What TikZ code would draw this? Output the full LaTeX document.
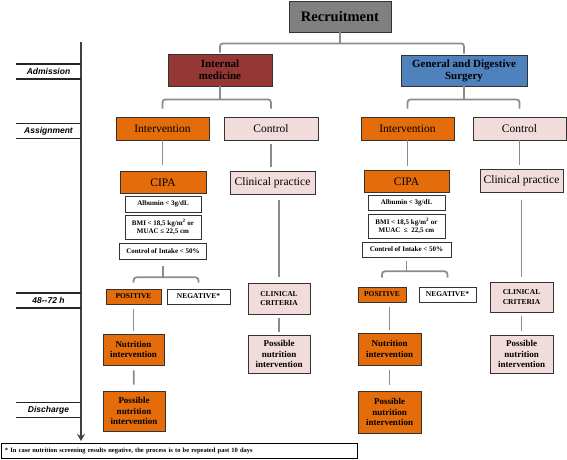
\documentclass[tikz,border=0pt]{standalone}
\usepackage{fontspec}
\setmainfont{Liberation Serif}
\newfontfamily\phasefont{Liberation Sans}
\usetikzlibrary{arrows.meta, positioning, calc}

\definecolor{recgray}{HTML}{808080}
\definecolor{imred}{HTML}{953735}
\definecolor{gsblue}{HTML}{4F81BD}
\definecolor{intorange}{HTML}{E46C0A}
\definecolor{ctlpink}{HTML}{F2DCDB}
\definecolor{linkgray}{HTML}{8C8C8C}
\definecolor{boxedge}{HTML}{333333}

\begin{document}
\begin{tikzpicture}[
    x=1pt, y=-1pt,
    box/.style={rectangle, draw=boxedge, line width=0.8pt, align=center, inner sep=1pt},
    ward/.style={box, font=\fontsize{11}{12}\selectfont\bfseries},
    arm/.style={box, font=\fontsize{11.5}{12}\selectfont, minimum height=23pt},
    crit/.style={box, fill=white, font=\fontsize{7}{8}\selectfont\bfseries},
    result/.style={box, font=\fontsize{7.5}{9.5}\selectfont\bfseries, minimum height=15pt},
    action/.style={box, font=\fontsize{9}{10.5}\selectfont\bfseries},
    phase/.style={font=\phasefont\fontsize{8.5}{10}\selectfont\bfseries\itshape, minimum width=65pt, minimum height=15pt, inner sep=0pt},
    phaseline/.style={line width=1.5pt, black!85},
    link/.style={line width=1.8pt, linkgray},
    timeline/.style={line width=1.8pt, black!75, -{Stealth[length=7pt, width=8pt]}}
]
\useasboundingbox (0,0) rectangle (567,459);

% Time line (left)
\coordinate (tltop) at (81,42);
\coordinate (tlend) at (81,441);
\draw[timeline] (tltop) -- (tlend);

\node[phase] (adm) at (48.5,71.5) {Admission};
\node[phase] (asg) at (48.5,131) {Assignment};
\node[phase] (h48) at (48.5,300.5) {48--72 h};
\node[phase] (dis) at (48.5,410) {Discharge};
\foreach \p in {adm, asg, h48, dis} {
    \draw[phaseline] (\p.north west) -- (\p.north east);
    \draw[phaseline] (\p.south west) -- (\p.south east);
}

% Recruitment and wards
\node[box, fill=recgray, minimum width=102pt, minimum height=31pt, font=\fontsize{14.5}{16}\selectfont\bfseries] (recruit) at (340,16.5) {Recruitment};
\node[ward, fill=imred, minimum width=104pt, minimum height=32pt] (im) at (220,70) {Internal\\medicine};
\node[ward, fill=gsblue, minimum width=126pt, minimum height=31pt] (gs) at (464,70.5) {General and Digestive\\Surgery};

% Assignment
\node[arm, fill=intorange, minimum width=93pt] (int1) at (162.5,128.5) {Intervention};
\node[arm, fill=ctlpink, minimum width=94pt] (ctl1) at (271,128.5) {Control};
\node[arm, fill=intorange, minimum width=93pt] (int2) at (407.5,128.5) {Intervention};
\node[arm, fill=ctlpink, minimum width=93pt] (ctl2) at (519.5,128.5) {Control};

% Screening - Internal medicine
\node[arm, fill=intorange, minimum width=86pt, minimum height=22pt] (cipa1) at (163,182.5) {CIPA};
\node[crit, minimum width=76pt, minimum height=16pt, below=2pt of cipa1] (alb1) {Albumin < 3g/dL};
\node[crit, minimum width=76pt, minimum height=24pt, below=2pt of alb1] (bmi1) {BMI < 18,5 kg/m\textsuperscript{2} or\\MUAC ≤ 22,5 cm};
\node[crit, minimum width=87pt, minimum height=16pt, below=3pt of bmi1] (coi1) {Control of Intake < 50\%};
\node[arm, fill=ctlpink, minimum width=85pt] (cp1) at (272.5,182.5) {Clinical practice};

% Screening - Surgery
\node[arm, fill=intorange, minimum width=85pt, minimum height=22pt] (cipa2) at (406.5,181.5) {CIPA};
\node[crit, minimum width=77pt, minimum height=15pt, below=2pt of cipa2] (alb2) {Albumin < 3g/dL};
\node[crit, minimum width=77pt, minimum height=24pt, below=3pt of alb2] (bmi2) {BMI < 18,5 kg/m\textsuperscript{2} or\\MUAC \ ≤ \ 22,5 cm};
\node[crit, minimum width=89pt, minimum height=15pt, below=3pt of bmi2] (coi2) {Control of Intake < 50\%};
\node[arm, fill=ctlpink, minimum width=83pt] (cp2) at (521.5,180.5) {Clinical practice};

% 48-72 h results
\node[result, fill=intorange, minimum width=55pt] (pos1) at (133.5,296.5) {POSITIVE};
\node[result, fill=white, minimum width=63pt] (neg1) at (198.5,296.5) {NEGATIVE*};
\node[result, fill=ctlpink, minimum width=62pt, minimum height=31pt] (cc1) at (279,298.5) {CLINICAL\\CRITERIA};
\node[result, fill=intorange, minimum width=48pt] (pos2) at (382,294.5) {POSITIVE};
\node[result, fill=white, minimum width=57pt] (neg2) at (447.5,294.5) {NEGATIVE*};
\node[result, fill=ctlpink, minimum width=63pt, minimum height=30pt] (cc2) at (521.5,297) {CLINICAL\\CRITERIA};

% Nutrition intervention
\node[action, fill=intorange, minimum width=61pt, minimum height=31pt] (ni1) at (133.5,349.5) {Nutrition\\intervention};
\node[action, fill=intorange, minimum width=62pt, minimum height=40pt] (pn1) at (134,411) {Possible\\nutrition\\intervention};
\node[action, fill=ctlpink, minimum width=62pt, minimum height=38pt] (pnc1) at (279,354) {Possible\\nutrition\\intervention};
\node[action, fill=intorange, minimum width=63pt, minimum height=32pt] (ni2) at (389.5,349) {Nutrition\\intervention};
\node[action, fill=intorange, minimum width=63pt, minimum height=42pt] (pn2) at (389.5,412) {Possible\\nutrition\\intervention};
\node[action, fill=ctlpink, minimum width=63pt, minimum height=38pt] (pnc2) at (521.5,354) {Possible\\nutrition\\intervention};

% Footnote
\node[box, draw=black, anchor=west, text width=348pt, inner xsep=4pt, minimum height=15pt, align=left, font=\fontsize{6.5}{7.5}\selectfont\bfseries] (note) at (0.5,450.5) {* In case nutrition screening results negative, the process is to be repeated past 10 days};

% Brackets
\draw[link] (recruit.south) -- ++(0,11) coordinate (rb);
\draw[link, rounded corners=3pt] ($(im.north)+(0,-1)$) |- (rb) -| ($(gs.north)+(0,-1)$);
\draw[link] (im.south) -- ++(0,13) coordinate (imb);
\draw[link, rounded corners=3pt] ($(int1.north)+(0,-8)$) |- (imb) -| ($(ctl1.north)+(0,-8)$);
\draw[link] (gs.south) -- ++(0,13) coordinate (gsb);
\draw[link, rounded corners=3pt] ($(int2.north)+(0,-8)$) |- (gsb) -| ($(ctl2.north)+(0,-8)$);
\draw[link] ($(coi1.south)+(0,7)$) -- ++(0,11) coordinate (cb1);
\draw[link, rounded corners=3pt] ($(pos1.north)+(0,-6)$) |- (cb1) -| ($(neg1.north)+(0,-6)$);
\draw[link] ($(coi2.south)+(0,4)$) -- ++(0,10) coordinate (cb2);
\draw[link, rounded corners=3pt] ($(pos2.north)+(0,-9)$) |- (cb2) -| ($(neg2.north)+(0,-9)$);

% Links - Internal medicine
\draw[link, shorten >=6pt] (int1.south) -- (int1.south |- cipa1.north);
\draw[link, shorten <=4pt, shorten >=4pt] (ctl1.south) -- (ctl1.south |- cp1.north);
\draw[link, shorten <=6pt, shorten >=6pt] (cc1.north |- cp1.south) -- (cc1.north);
\draw[link, shorten <=4pt, shorten >=3pt] (cc1) -- (pnc1);
\draw[link, shorten <=5pt, shorten >=3pt] (pos1) -- (ni1);
\draw[link, shorten <=5pt, shorten >=6pt] (ni1) -- (pn1);

% Links - Surgery
\draw[link, shorten >=4pt] (int2.south) -- (int2.south |- cipa2.north);
\draw[link, shorten >=4pt] (ctl2.south) -- (ctl2.south |- cp2.north);
\draw[link, shorten <=8pt, shorten >=5pt] (cp2) -- (cc2);
\draw[link, shorten <=4pt, shorten >=4pt] (cc2) -- (pnc2);
\draw[link, shorten <=5pt, shorten >=3pt] (pos2.south -| ni2.north) -- (ni2.north);
\draw[link, shorten <=5pt, shorten >=6pt] (ni2) -- (pn2);

\end{tikzpicture}
\end{document}
